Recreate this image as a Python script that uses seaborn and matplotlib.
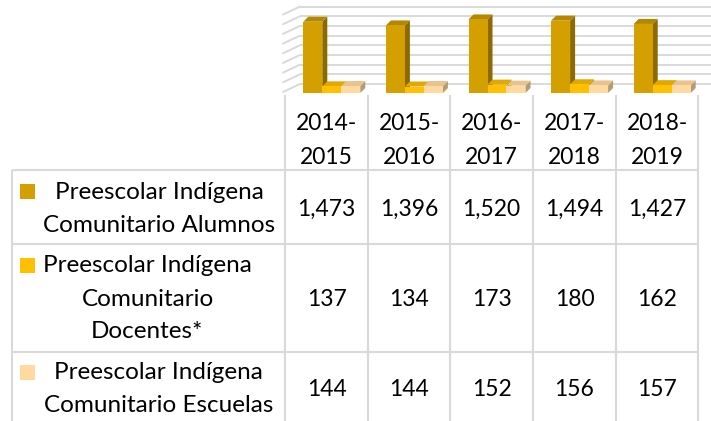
import matplotlib
matplotlib.use("Agg")
import matplotlib.pyplot as plt
import seaborn as sns
import pandas as pd
from matplotlib.patches import Polygon, Rectangle

# ---- data -------------------------------------------------------------
ciclos = ["2014-2015", "2015-2016", "2016-2017", "2017-2018", "2018-2019"]
series = [
    "Preescolar Indígena Comunitario Alumnos",
    "Preescolar Indígena Comunitario Docentes*",
    "Preescolar Indígena Comunitario Escuelas",
]
alumnos = [1473, 1396, 1520, 1494, 1427]
docentes = [137, 134, 173, 180, 162]
escuelas = [144, 144, 152, 156, 157]
valores = [alumnos, docentes, escuelas]
grid_vals = [0, 200, 400, 600, 800, 1000, 1200, 1400, 1600]

# legend text as it wraps inside the table's first column
leyenda = [
    ["Preescolar Indígena", "Comunitario Alumnos"],
    ["Preescolar Indígena", "Comunitario", "Docentes*"],
    ["Preescolar Indígena", "Comunitario Escuelas"],
]
colores = ["#D4A000", "#FFC000", "#FFD9A0"]
lados = ["#8C6A00", "#B88A00", "#B39B74"]
techos = ["#B38700", "#E0A800", "#E8C48C"]

df = pd.DataFrame(
    [(c, s, v) for s, vals in zip(series, valores) for c, v in zip(ciclos, vals)],
    columns=["ciclo", "serie", "valor"],
)

# ---- figure ------------------------------------------------------------
W, H = 711, 421
sns.set_theme(style="white")
plt.rcParams["font.family"] = ["Lato", "DejaVu Sans"]
fig = plt.figure(figsize=(W / 100, H / 100), dpi=100)
fig.patch.set_facecolor("white")

K = 0.0484        # pixels per unit on the value axis
COL = 82.6        # pixels per category column
BASE = 93         # baseline of the bars (pixels from top)
AX_LEFT = 290.5

# table / wall overlay in pixel coordinates
tab = fig.add_axes([0, 0, 1, 1])
tab.set_xlim(0, W)
tab.set_ylim(H, 0)
tab.axis("off")
tab.set_zorder(0)

ax = fig.add_axes([AX_LEFT / W, (H - BASE) / H, 5 * COL / W, BASE / H])
ax.set_zorder(1)

sns.barplot(
    data=df, x="ciclo", y="valor", hue="serie", order=ciclos, hue_order=series,
    palette=colores, width=0.69, saturation=1, errorbar=None, legend=False,
    linewidth=0, ax=ax,
)
ax.set_xlim(-0.5, 4.5)
ax.set_ylim(0, BASE / K)
ax.axis("off")

# 3-D depth of each bar: top and right-hand faces
ddx = 5 / COL
ddy = 5 / K
for i, cont in enumerate(ax.containers):
    z = 3 + i
    for bar in cont:
        x0 = bar.get_x()
        x1 = x0 + bar.get_width()
        h = bar.get_height()
        bar.set_zorder(z)
        ax.add_patch(Polygon([(x1, 0), (x1, h), (x1 + ddx, h + ddy), (x1 + ddx, ddy)],
                             closed=True, facecolor=lados[i], edgecolor="none",
                             zorder=z - 0.5, clip_on=False))
        ax.add_patch(Polygon([(x0, h), (x1, h), (x1 + ddx, h + ddy), (x0 + ddx, h + ddy)],
                             closed=True, facecolor=techos[i], edgecolor="none",
                             zorder=z - 0.5, clip_on=False))

# back wall and side wall gridlines, set back from the bars' baseline
grid_c = "#D9D9D9"
for v in grid_vals:
    yp = BASE - 9 - v * K
    tab.plot([300, 711], [yp, yp], color=grid_c, lw=1.4, solid_capstyle="butt")
    tab.plot([283, 300], [yp + 8, yp], color=grid_c, lw=1.4)

# ---- data table --------------------------------------------------------
line_kw = dict(color=grid_c, lw=1.5, solid_capstyle="butt")
col_edges = [285, 368, 450, 533, 616, 698]
for x in col_edges:
    tab.plot([x, x], [95, H], **line_kw)
tab.plot([12, 12], [170, H], **line_kw)
for y in [170, 244, 352]:
    tab.plot([12, 698], [y, y], **line_kw)

FS_NUM = 16.5
FS_TXT = 17.5
centros = [(a + b) / 2 for a, b in zip(col_edges[:-1], col_edges[1:])]
for c, xc in zip(ciclos, centros):
    tab.text(xc, 130.5, c[:5], ha="center", va="baseline", fontsize=FS_NUM, color="black")
    tab.text(xc, 164, c[5:], ha="center", va="baseline", fontsize=FS_NUM, color="black")

baselines = [216, 306.5, 396.5]
for vals, yb in zip(valores, baselines):
    for v, xc in zip(vals, centros):
        tab.text(xc, yb, f"{v:,}", ha="center", va="baseline", fontsize=FS_NUM, color="black")

ley_pos = [
    [(159, 199), (159.5, 231.5)],
    [(147.5, 272.5), (148, 306.5), (147, 338)],
    [(158, 379), (158.5, 411.5)],
]
marcas = [184, 258, 365]
for lineas, pos, col, ym in zip(leyenda, ley_pos, colores, marcas):
    tab.add_patch(Rectangle((20, ym), 15, 15, facecolor=col, edgecolor="none"))
    for t, (xc, yb) in zip(lineas, pos):
        tab.text(xc, yb, t, ha="center", va="baseline", fontsize=FS_TXT, color="black")

fig.savefig("out.png", dpi=100, facecolor="white")
